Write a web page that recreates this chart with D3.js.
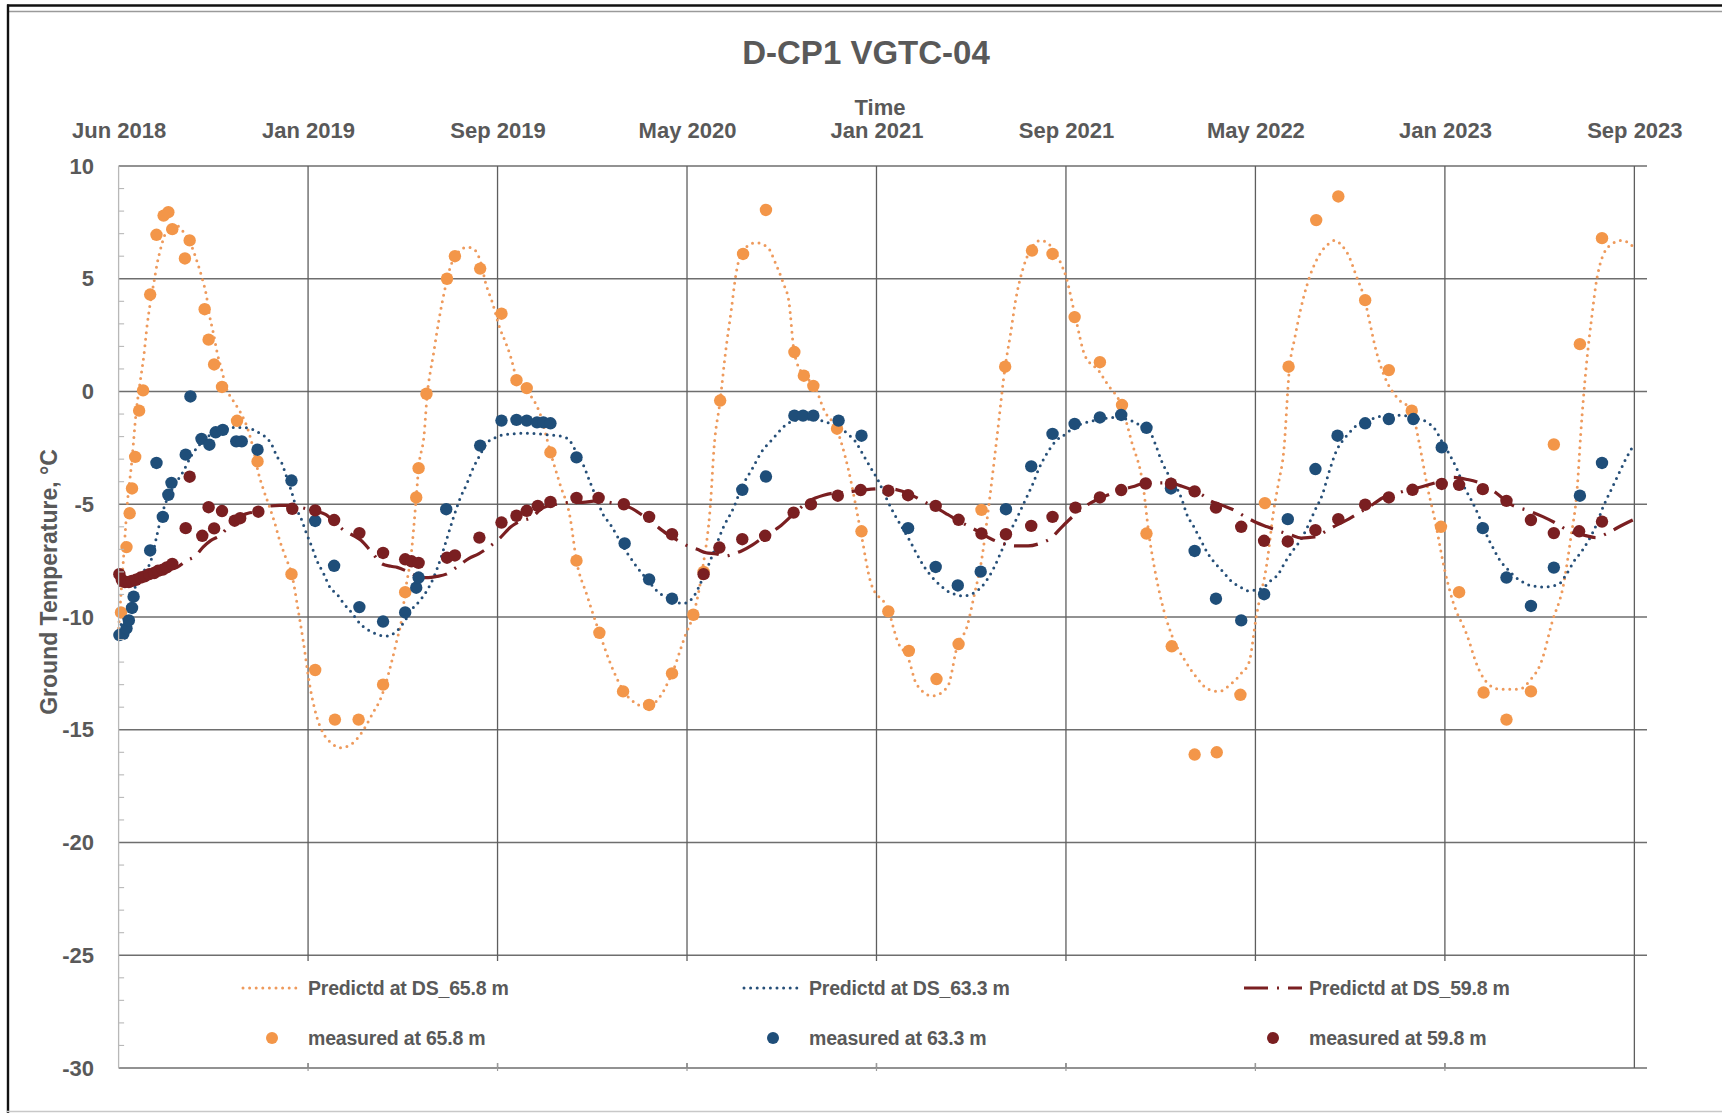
<!DOCTYPE html>
<html>
<head>
<meta charset="utf-8">
<title>D-CP1 VGTC-04</title>
<script src="https://d3js.org/d3.v7.min.js"></script>
<style>
  html, body { margin: 0; padding: 0; background: #fff; }
  svg { display: block; }
  text { font-family: "Liberation Sans", Arial, Helvetica, sans-serif; font-weight: bold; fill: #595959; }
  .title { font-size: 33px; }
  .axis-title { font-size: 22px; }
  .x-ticks text, .y-ticks text { font-size: 22px; }
  .legend text { font-size: 19.5px; letter-spacing: -0.2px; }
</style>
</head>
<body>
<svg id="chart" width="1722" height="1113"></svg>
<script>
// ---- Time axis: elapsed days are counted from the first reading (1 June 2018) ----
const startDate = new Date(2018, 5, 1);
const xTickDates = ["2018-06-01", "2019-01-27", "2019-09-24", "2020-05-21", "2021-01-16",
                    "2021-09-13", "2022-05-11", "2023-01-06", "2023-09-03"];
const yTicks = [10, 5, 0, -5, -10, -15, -20, -25, -30];

// ---- Predicted ground temperature [elapsed day, °C] ----
const predicted658 = [[0,-10.5],[6,-7.5],[11,-5.0],[17,-3.0],[22,-1.0],[28,0.6],[32,1.6],[36,2.9],[40,3.9],[45,4.9],[49,5.7],[53,6.3],[58,6.9],[65,7.3],[72,7.4],[79,7.2],[86,6.9],[93,6.4],[99,5.8],[106,5.0],[111,4.3],[115,3.4],[120,2.6],[125,1.7],[131,0.9],[136,0.2],[145,-0.4],[154,-0.9],[164,-1.7],[171,-2.6],[177,-3.6],[184,-4.4],[191,-5.1],[198,-5.85],[204,-6.6],[211,-7.3],[220,-8.2],[227,-9.6],[234,-11.1],[242,-13.0],[250,-14.3],[260,-15.2],[270,-15.6],[281,-15.8],[292,-15.7],[302,-15.4],[312,-14.9],[323,-14.2],[331,-13.7],[338,-13.0],[345,-12.1],[352,-11.1],[359,-10.0],[363,-8.9],[371,-7.1],[377,-4.7],[380,-3.4],[387,-1.9],[391,-0.1],[395,0.9],[399,1.7],[403,2.6],[409,3.8],[415,4.8],[420,5.5],[427,6.0],[434,6.3],[441,6.4],[448,6.35],[453,6.2],[459,5.7],[465,4.8],[473,4.0],[483,2.8],[490,2.2],[497,1.5],[504,0.6],[518,0.0],[534,-1.0],[547,-2.7],[559,-4.1],[572,-5.6],[580,-7.5],[593,-9.0],[609,-10.7],[627,-12.4],[640,-13.3],[654,-13.8],[668,-14.0],[682,-13.7],[701,-12.5],[718,-10.8],[728,-9.9],[740,-7.8],[750,-4.85],[754,-2.6],[762,-0.4],[769,1.8],[776,3.6],[782,5.2],[790,6.2],[807,6.6],[822,6.4],[832,5.7],[842,4.8],[849,4.0],[856,1.7],[868,0.7],[881,0.3],[894,-0.85],[910,-1.7],[924,-3.4],[940,-6.2],[953,-8.5],[975,-9.7],[987,-11.1],[1000,-11.8],[1011,-13.0],[1031,-13.5],[1050,-13.1],[1063,-11.2],[1074,-10.5],[1084,-9.0],[1093,-7.5],[1103,-4.85],[1113,-1.9],[1123,1.1],[1130,2.6],[1136,4.0],[1146,5.5],[1157,6.4],[1168,6.7],[1182,6.4],[1192,5.8],[1200,5.1],[1212,3.3],[1224,1.6],[1242,0.9],[1253,0.3],[1270,-0.6],[1283,-2.2],[1298,-4.25],[1305,-6.3],[1312,-7.8],[1321,-9.3],[1334,-10.8],[1352,-12.0],[1366,-12.7],[1380,-13.2],[1394,-13.3],[1408,-13.0],[1422,-12.5],[1432,-12.0],[1441,-10.0],[1455,-7.5],[1463,-5.3],[1469,-4.1],[1476,-2.6],[1483,1.0],[1490,2.4],[1497,3.6],[1506,4.8],[1520,6.0],[1531,6.5],[1541,6.7],[1550,6.45],[1557,6.1],[1568,5.1],[1579,4.0],[1584,3.2],[1593,1.8],[1602,0.8],[1620,-0.3],[1638,-0.85],[1647,-2.2],[1658,-4.25],[1668,-5.8],[1679,-7.8],[1690,-9.3],[1708,-10.8],[1722,-12.25],[1736,-13.0],[1750,-13.2],[1763,-13.2],[1774,-13.2],[1788,-12.8],[1802,-12.0],[1816,-10.2],[1830,-8.6],[1839,-6.6],[1848,-4.1],[1852,-1.9],[1859,1.1],[1866,3.3],[1873,5.1],[1888,6.45],[1905,6.7],[1919,6.4]];

const predicted633 = [[0,-10.6],[7,-10.0],[14,-9.3],[22,-8.6],[31,-8.0],[40,-7.6],[49,-6.3],[53,-5.7],[58,-5.1],[70,-4.2],[81,-3.6],[93,-2.8],[107,-2.2],[121,-1.8],[135,-1.6],[149,-1.6],[159,-1.6],[171,-1.7],[181,-1.9],[189,-2.1],[196,-2.5],[200,-2.85],[207,-3.2],[211,-3.6],[220,-4.55],[225,-5.15],[232,-5.7],[238,-6.3],[245,-6.9],[250,-7.4],[260,-8.1],[268,-8.7],[277,-9.0],[285,-9.4],[295,-9.8],[306,-10.3],[323,-10.7],[339,-10.85],[353,-10.6],[364,-10.1],[373,-9.6],[381,-9.3],[391,-8.8],[399,-8.25],[408,-7.4],[416,-6.5],[424,-5.6],[433,-4.7],[441,-4.1],[449,-3.4],[458,-2.8],[466,-2.3],[474,-2.1],[483,-1.96],[497,-1.88],[517,-1.85],[538,-1.9],[563,-2.0],[572,-2.2],[580,-2.7],[588,-3.2],[597,-4.0],[605,-4.7],[613,-5.4],[623,-5.9],[633,-6.5],[645,-7.2],[657,-7.8],[671,-8.4],[682,-8.85],[698,-9.2],[715,-9.4],[723,-9.3],[730,-9.0],[741,-8.2],[754,-7.1],[765,-6.1],[779,-5.15],[790,-4.2],[803,-3.4],[814,-2.7],[826,-2.2],[836,-1.8],[846,-1.45],[856,-1.3],[865,-1.22],[885,-1.26],[900,-1.4],[914,-1.6],[924,-1.9],[933,-2.2],[943,-2.8],[953,-3.4],[963,-4.0],[972,-4.7],[982,-5.4],[992,-6.0],[1002,-6.6],[1011,-7.2],[1021,-7.8],[1031,-8.25],[1041,-8.6],[1050,-8.85],[1060,-9.0],[1070,-9.07],[1079,-9.0],[1089,-8.8],[1099,-8.4],[1109,-7.8],[1118,-7.1],[1128,-6.3],[1138,-5.6],[1148,-4.85],[1158,-4.1],[1166,-3.4],[1175,-2.8],[1187,-2.2],[1199,-1.9],[1210,-1.6],[1223,-1.4],[1234,-1.3],[1248,-1.2],[1263,-1.15],[1274,-1.2],[1283,-1.3],[1294,-1.5],[1308,-1.9],[1314,-2.4],[1321,-3.07],[1330,-3.7],[1340,-4.25],[1347,-4.8],[1353,-5.44],[1362,-6.0],[1371,-6.6],[1380,-7.2],[1390,-7.66],[1399,-8.0],[1409,-8.4],[1420,-8.65],[1431,-8.84],[1441,-8.8],[1450,-8.7],[1459,-8.4],[1469,-8.1],[1477,-7.6],[1487,-7.07],[1497,-6.6],[1506,-6.0],[1515,-5.3],[1525,-4.55],[1533,-3.6],[1543,-2.6],[1550,-2.2],[1557,-1.9],[1565,-1.6],[1575,-1.37],[1589,-1.2],[1602,-1.07],[1616,-1.05],[1630,-1.07],[1644,-1.2],[1658,-1.37],[1668,-1.7],[1676,-2.2],[1686,-2.8],[1696,-3.5],[1704,-4.2],[1714,-4.85],[1724,-5.6],[1732,-6.3],[1742,-7.0],[1750,-7.5],[1760,-7.9],[1770,-8.25],[1779,-8.45],[1788,-8.6],[1797,-8.65],[1806,-8.67],[1816,-8.62],[1824,-8.55],[1834,-8.1],[1844,-7.5],[1853,-7.1],[1862,-6.6],[1872,-5.9],[1880,-5.15],[1890,-4.4],[1900,-3.66],[1909,-3.0],[1920,-2.33]];

const predicted598 = [[0,-8.6],[17,-8.5],[31,-8.35],[45,-8.15],[58,-7.95],[74,-7.8],[86,-7.5],[97,-7.3],[107,-6.9],[117,-6.6],[128,-6.4],[139,-6.0],[150,-5.6],[164,-5.4],[179,-5.3],[189,-5.1],[204,-5.05],[218,-5.05],[232,-5.15],[248,-5.3],[262,-5.45],[274,-5.8],[287,-6.2],[298,-6.4],[307,-6.6],[320,-7.1],[334,-7.65],[345,-7.75],[353,-7.8],[367,-8.0],[383,-8.25],[392,-8.25],[403,-8.2],[415,-8.1],[428,-7.8],[444,-7.4],[456,-7.2],[469,-6.9],[483,-6.5],[497,-6.0],[509,-5.75],[522,-5.6],[538,-5.15],[555,-5.0],[572,-4.92],[588,-4.92],[605,-4.85],[619,-4.9],[632,-5.0],[648,-5.15],[664,-5.5],[679,-5.9],[694,-6.3],[708,-6.6],[721,-6.85],[733,-7.0],[744,-7.15],[757,-7.2],[769,-7.3],[779,-7.2],[789,-7.07],[803,-6.8],[819,-6.4],[837,-6.0],[856,-5.4],[875,-4.85],[893,-4.6],[907,-4.5],[919,-4.48],[936,-4.4],[953,-4.33],[970,-4.3],[985,-4.35],[1002,-4.55],[1018,-4.85],[1035,-5.15],[1050,-5.45],[1064,-5.74],[1078,-6.0],[1091,-6.25],[1106,-6.55],[1123,-6.77],[1136,-6.85],[1152,-6.85],[1166,-6.75],[1181,-6.5],[1195,-6.0],[1210,-5.5],[1224,-5.1],[1239,-4.8],[1256,-4.55],[1273,-4.33],[1287,-4.2],[1298,-4.08],[1314,-4.05],[1331,-4.05],[1347,-4.2],[1362,-4.4],[1373,-4.6],[1383,-4.85],[1398,-5.05],[1413,-5.26],[1427,-5.55],[1441,-5.81],[1455,-6.0],[1469,-6.18],[1484,-6.35],[1498,-6.5],[1515,-6.45],[1530,-6.18],[1544,-5.9],[1558,-5.66],[1575,-5.3],[1589,-5.0],[1602,-4.7],[1616,-4.55],[1630,-4.4],[1653,-4.2],[1676,-3.96],[1690,-3.81],[1708,-3.9],[1727,-4.1],[1745,-4.5],[1763,-5.0],[1787,-5.3],[1804,-5.55],[1819,-5.81],[1837,-6.18],[1854,-6.35],[1872,-6.48],[1885,-6.3],[1899,-6.03],[1918,-5.7]];

// ---- Measured ground temperature [elapsed day, °C] ----
const measured658 = [[3,-9.8],[10,-6.9],[14,-5.4],[17,-4.3],[21,-2.9],[26,-0.85],[31,0.05],[40,4.3],[48,6.95],[57,7.8],[63,7.95],[68,7.2],[84,5.9],[90,6.7],[109,3.65],[114,2.3],[121,1.2],[131,0.2],[150,-1.3],[176,-3.1],[219,-8.1],[249,-12.35],[274,-14.55],[304,-14.55],[335,-13.0],[363,-8.9],[377,-4.7],[380,-3.4],[390,-0.1],[416,5.0],[426,6.0],[458,5.45],[485,3.45],[504,0.5],[517,0.15],[547,-2.7],[580,-7.5],[609,-10.7],[639,-13.3],[672,-13.9],[701,-12.5],[728,-9.9],[741,-8.0],[762,-0.4],[791,6.1],[820,8.05],[856,1.75],[868,0.7],[880,0.25],[910,-1.65],[941,-6.2],[975,-9.75],[1001,-11.5],[1036,-12.75],[1064,-11.2],[1093,-5.25],[1123,1.1],[1157,6.25],[1183,6.1],[1211,3.3],[1243,1.3],[1271,-0.6],[1302,-6.3],[1334,-11.3],[1363,-16.1],[1391,-16.0],[1421,-13.45],[1452,-4.95],[1482,1.1],[1517,7.6],[1545,8.65],[1579,4.05],[1609,0.95],[1638,-0.85],[1675,-6.0],[1698,-8.9],[1729,-13.35],[1758,-14.55],[1789,-13.3],[1818,-2.35],[1851,2.1],[1879,6.8]];

const measured633 = [[1,-10.8],[6,-10.75],[10,-10.5],[13,-10.15],[17,-9.6],[19,-9.1],[40,-7.05],[48,-3.17],[56,-5.56],[63,-4.58],[67,-4.05],[85,-2.8],[91,-0.22],[105,-2.1],[115,-2.36],[123,-1.81],[132,-1.7],[149,-2.21],[156,-2.21],[176,-2.58],[219,-3.95],[249,-5.74],[273,-7.73],[305,-9.56],[335,-10.2],[363,-9.8],[377,-8.7],[380,-8.25],[415,-5.22],[458,-2.4],[485,-1.29],[504,-1.26],[517,-1.29],[530,-1.37],[538,-1.37],[547,-1.41],[580,-2.92],[641,-6.74],[672,-8.33],[701,-9.19],[790,-4.36],[820,-3.77],[856,-1.07],[867,-1.07],[880,-1.07],[912,-1.29],[941,-1.96],[1000,-6.06],[1035,-7.78],[1063,-8.6],[1092,-7.99],[1124,-5.22],[1156,-3.32],[1183,-1.88],[1211,-1.44],[1243,-1.15],[1270,-1.04],[1302,-1.61],[1333,-4.3],[1363,-7.07],[1390,-9.19],[1422,-10.15],[1451,-8.99],[1481,-5.66],[1516,-3.44],[1544,-1.96],[1579,-1.41],[1609,-1.22],[1640,-1.22],[1676,-2.48],[1728,-6.06],[1758,-8.25],[1789,-9.51],[1818,-7.81],[1851,-4.62],[1879,-3.17]];

const measured598 = [[1,-8.1],[4,-8.35],[8,-8.45],[13,-8.45],[17,-8.4],[22,-8.35],[28,-8.25],[33,-8.2],[39,-8.1],[45,-8.05],[50,-7.95],[56,-7.9],[61,-7.8],[68,-7.65],[85,-6.06],[90,-3.78],[106,-6.4],[114,-5.13],[121,-6.07],[131,-5.3],[147,-5.73],[154,-5.62],[177,-5.33],[220,-5.2],[249,-5.27],[273,-5.7],[305,-6.28],[335,-7.16],[363,-7.44],[371,-7.53],[380,-7.6],[416,-7.37],[426,-7.27],[457,-6.48],[485,-5.81],[504,-5.51],[517,-5.29],[531,-5.07],[547,-4.9],[580,-4.72],[608,-4.72],[640,-5.0],[672,-5.56],[701,-6.33],[741,-8.1],[761,-6.92],[790,-6.55],[819,-6.4],[855,-5.37],[877,-5.0],[911,-4.62],[940,-4.37],[975,-4.4],[1000,-4.6],[1035,-5.07],[1064,-5.69],[1093,-6.3],[1124,-6.33],[1156,-5.96],[1183,-5.56],[1212,-5.15],[1243,-4.7],[1270,-4.37],[1301,-4.08],[1333,-4.09],[1363,-4.43],[1390,-5.15],[1422,-6.0],[1451,-6.62],[1481,-6.65],[1516,-6.15],[1545,-5.66],[1579,-5.02],[1609,-4.7],[1639,-4.36],[1676,-4.1],[1698,-4.14],[1728,-4.33],[1758,-4.85],[1789,-5.7],[1818,-6.28],[1850,-6.2],[1879,-5.77]];

const predictedNames = ["Predictd at DS_65.8 m", "Predictd at DS_63.3 m", "Predictd at DS_59.8 m"];
const measuredNames  = ["measured at 65.8 m", "measured at 63.3 m", "measured at 59.8 m"];
const seriesColors   = ["#F39649", "#1F4E79", "#7A1F21"];
const lineColors     = ["#EE9A5C", "#264F78", "#7A1F21"];
const lineDashes     = ["0 6.6", "0 6.6", "24 9 2 9"];

// ---- Layout ----
const svg = d3.select("#chart");
const W = 1722, H = 1113;
const plot = { left: 118.6, right: 1647, top: 166, bottom: 1068 };
const endDay = 1936;

const toDate = d => d3.timeDay.offset(startDate, d);
const parseDate = d3.timeParse("%Y-%m-%d");
const x = d3.scaleTime().domain([startDate, toDate(endDay)]).range([plot.left, plot.right]);
const y = d3.scaleLinear().domain([-30, 10]).range([plot.bottom, plot.top]);
const tickDates = xTickDates.map(parseDate);

svg.append("rect").attr("width", W).attr("height", H).attr("fill", "#fff");

// chart frame
const frame = svg.append("g");
frame.append("line").attr("x1", 7).attr("x2", W).attr("y1", 5.5).attr("y2", 5.5)
  .attr("stroke", "#111").attr("stroke-width", 2.4);
frame.append("line").attr("x1", 7).attr("x2", W).attr("y1", 11.5).attr("y2", 11.5)
  .attr("stroke", "#9a9a9a").attr("stroke-width", 1.4);
frame.append("line").attr("x1", 8).attr("x2", 8).attr("y1", 4.5).attr("y2", H)
  .attr("stroke", "#111").attr("stroke-width", 2.4);
frame.append("line").attr("x1", 7).attr("x2", W).attr("y1", H - 1.5).attr("y2", H - 1.5)
  .attr("stroke", "#c8c8c8").attr("stroke-width", 1.5);

// gridlines
const grid = svg.append("g");
grid.selectAll("line.hgrid").data(yTicks).join("line").attr("class", "hgrid")
  .attr("x1", plot.left).attr("x2", plot.right)
  .attr("y1", d => y(d)).attr("y2", d => y(d))
  .attr("stroke", "#6e6e6e").attr("stroke-width", 1.3);
grid.selectAll("line.vgrid").data(tickDates.slice(1)).join("line").attr("class", "vgrid")
  .attr("x1", d => x(d)).attr("x2", d => x(d))
  .attr("y1", plot.top).attr("y2", plot.bottom)
  .attr("stroke", "#5e5e5e").attr("stroke-width", 1.3);

// predicted curves
const line = d3.line()
  .x(d => x(toDate(d[0])))
  .y(d => y(d[1]))
  .curve(d3.curveMonotoneX);
const predicted = [predicted658, predicted633, predicted598];
svg.append("g").selectAll("path").data(predicted).join("path")
  .attr("d", d => line(d))
  .attr("fill", "none")
  .attr("stroke", (d, i) => lineColors[i])
  .attr("stroke-width", (d, i) => i === 2 ? 3.2 : 3)
  .attr("stroke-linecap", (d, i) => i === 2 ? "butt" : "round")
  .attr("stroke-dasharray", (d, i) => lineDashes[i]);

// measured readings
const measured = [measured658, measured633, measured598];
const pts = svg.append("g");
measured.forEach((series, i) => {
  pts.append("g").selectAll("circle").data(series).join("circle")
    .attr("cx", d => x(toDate(d[0])))
    .attr("cy", d => y(d[1]))
    .attr("r", 6.2)
    .attr("fill", seriesColors[i]);
});

// legend (sits on a white panel inside the plot area)
const legendTop = 961, legendBottom = 1063;
svg.append("rect").attr("x", plot.left + 3.5).attr("y", legendTop)
  .attr("width", x(tickDates[8]) - plot.left - 6).attr("height", legendBottom - legendTop)
  .attr("fill", "#fff");

// left value axis line, minor ticks and crossing ticks on the bottom line
svg.append("line").attr("x1", plot.left).attr("x2", plot.left)
  .attr("y1", plot.top).attr("y2", plot.bottom)
  .attr("stroke", "#b8b8b8").attr("stroke-width", 1.3);
svg.append("g").selectAll("line").data(d3.range(-29, 10).filter(v => v % 5 !== 0)).join("line")
  .attr("x1", plot.left).attr("x2", plot.left + 5.5)
  .attr("y1", d => y(d)).attr("y2", d => y(d))
  .attr("stroke", "#b8b8b8").attr("stroke-width", 1.1);
svg.append("g").selectAll("line").data(tickDates.slice(1, 8)).join("line")
  .attr("x1", d => x(d)).attr("x2", d => x(d))
  .attr("y1", legendBottom).attr("y2", plot.bottom + 3)
  .attr("stroke", "#9a9a9a").attr("stroke-width", 1.2);

const legend = svg.append("g").attr("class", "legend");
const colCenters = [272, 773, 1273];
const rowY = [988, 1038];
colCenters.forEach((cx, i) => {
  legend.append("line")
    .attr("x1", cx - 29).attr("x2", cx + 29).attr("y1", rowY[0]).attr("y2", rowY[0])
    .attr("stroke", lineColors[i]).attr("stroke-width", i === 2 ? 3.2 : 3)
    .attr("stroke-linecap", i === 2 ? "butt" : "round")
    .attr("stroke-dasharray", lineDashes[i]);
  legend.append("text").attr("x", cx + 36).attr("y", rowY[0])
    .attr("dominant-baseline", "central").text(predictedNames[i]);
  legend.append("circle").attr("cx", cx).attr("cy", rowY[1]).attr("r", 6).attr("fill", seriesColors[i]);
  legend.append("text").attr("x", cx + 36).attr("y", rowY[1])
    .attr("dominant-baseline", "central").text(measuredNames[i]);
});

// axes labels
const xAxis = d3.axisTop(x).tickValues(tickDates).tickFormat(d3.timeFormat("%b %Y"))
  .tickSize(0).tickPadding(0);
svg.append("g").attr("class", "x-ticks").attr("transform", "translate(0,138)")
  .call(xAxis).call(g => g.select(".domain").remove());

const yAxis = d3.axisLeft(y).tickValues(yTicks).tickFormat(d => String(d))
  .tickSize(0).tickPadding(0);
svg.append("g").attr("class", "y-ticks").attr("transform", "translate(94,0)")
  .call(yAxis).call(g => g.select(".domain").remove());

svg.selectAll(".x-ticks text, .y-ticks text").attr("font-family", null).attr("font-size", null);

// titles
svg.append("text").attr("class", "title").attr("x", 866).attr("y", 64)
  .attr("text-anchor", "middle").text("D-CP1 VGTC-04");
svg.append("text").attr("class", "axis-title").attr("x", 880).attr("y", 115)
  .attr("text-anchor", "middle").text("Time");
svg.append("text").attr("class", "axis-title")
  .attr("transform", "translate(48.5,582) rotate(-90)")
  .attr("text-anchor", "middle").attr("dominant-baseline", "central")
  .style("font-size", "23px")
  .text("Ground Temperature, °C");
</script>
</body>
</html>
